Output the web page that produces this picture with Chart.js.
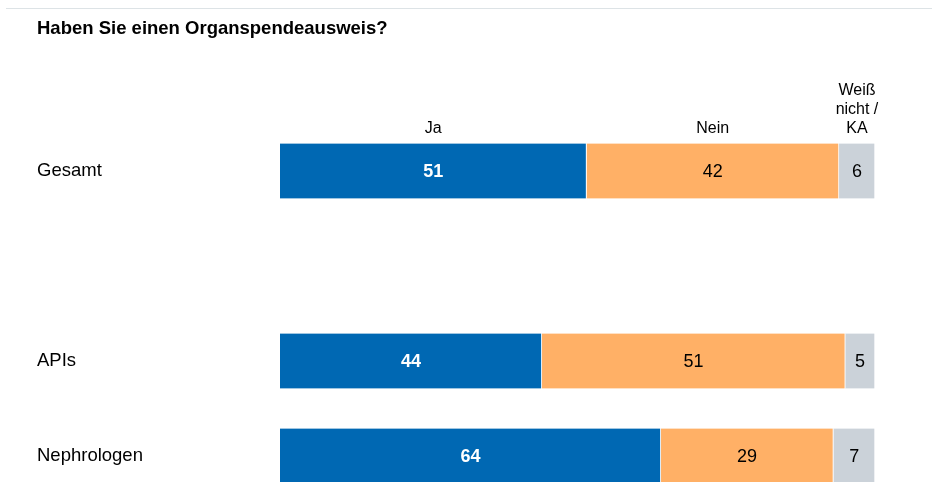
<!DOCTYPE html>
<html lang="de">
<head>
<meta charset="utf-8">
<title>Haben Sie einen Organspendeausweis?</title>
<script src="https://cdn.jsdelivr.net/npm/chart.js@4"></script>
<style>
  html, body { margin: 0; padding: 0; background: #fff; overflow: hidden; }
  #wrap { width: 932px; height: 482px; overflow: hidden; }
</style>
</head>
<body>
<div id="wrap"><canvas id="organChart" width="932" height="520"></canvas></div>
<script>
// == Data ==
const title = 'Haben Sie einen Organspendeausweis?';
const categories = ['Gesamt', '', 'APIs', 'Nephrologen'];
const seriesNames = ['Ja', 'Nein', 'Weiß nicht / KA'];
const headerLines = [['Ja'], ['Nein'], ['Weiß', 'nicht /', 'KA']];
const ja = [51, null, 44, 64];
const nein = [42, null, 51, 29];
const weissNicht = [6, null, 5, 7];
const seriesColors = ['#0068b3', '#ffb066', '#cbd2d9'];
const valueColors = ['#ffffff', '#000000', '#000000'];

const FONT = '"Liberation Sans", Arial, sans-serif';

// every row is drawn as a full 100 % bar (Gesamt adds up to 99)
const series = [ja, nein, weissNicht];
const rowTotals = categories.map((c, j) => series.reduce((s, arr) => s + (arr[j] || 0), 0));
const shares = series.map(arr => arr.map((v, j) => v === null ? null : v / rowTotals[j] * 100));

// title, top rule, column headers and value labels
const labelsPlugin = {
    id: 'organLabels',
    beforeDraw(chart) {
        const ctx = chart.ctx;
        ctx.save();
        ctx.strokeStyle = '#dde3e6';
        ctx.lineWidth = 1;
        ctx.beginPath();
        ctx.moveTo(6, 8.5);
        ctx.lineTo(932, 8.5);
        ctx.stroke();
        ctx.fillStyle = '#000';
        ctx.font = 'bold 18.5px ' + FONT;
        ctx.textAlign = 'left';
        ctx.textBaseline = 'alphabetic';
        ctx.fillText(title, 37, 34);
        ctx.restore();
    },
    afterDatasetsDraw(chart) {
        const ctx = chart.ctx;
        ctx.save();
        ctx.textAlign = 'center';
        chart.data.datasets.forEach((ds, i) => {
            const meta = chart.getDatasetMeta(i);
            // header above the first bar
            const first = meta.data[0];
            const cx = (first.x + first.base) / 2;
            const top = first.y - first.height / 2;
            const lines = headerLines[i];
            ctx.fillStyle = '#000';
            ctx.font = '16px ' + FONT;
            ctx.textBaseline = 'alphabetic';
            lines.forEach((line, k) => {
                ctx.fillText(line, cx, top - 11 - (lines.length - 1 - k) * 19);
            });
            // values inside the bars
            ctx.fillStyle = valueColors[i];
            ctx.font = (i === 0 ? 'bold ' : '') + '18px ' + FONT;
            ctx.textBaseline = 'middle';
            meta.data.forEach((bar, j) => {
                const v = series[i][j];
                if (v === null || v === undefined) return;
                ctx.fillText(String(v), (bar.x + bar.base) / 2, bar.y + 1);
            });
        });
        ctx.restore();
    }
};

const canvas = document.getElementById('organChart');
new Chart(canvas.getContext('2d'), {
    type: 'bar',
    data: {
        labels: categories,
        datasets: shares.map((values, i) => ({
            label: seriesNames[i],
            data: values,
            backgroundColor: seriesColors[i],
            borderColor: '#ffffff',
            borderWidth: { top: 0, bottom: 0, left: 0, right: 1 },
            borderSkipped: false,
            barThickness: 55
        }))
    },
    options: {
        indexAxis: 'y',
        responsive: false,
        animation: false,
        devicePixelRatio: 1,
        layout: { padding: { left: 37, right: 57, top: 123.5, bottom: 16.5 } },
        plugins: {
            legend: { display: false },
            title: { display: false },
            tooltip: { enabled: false }
        },
        scales: {
            x: {
                stacked: true,
                min: 0,
                max: 100,
                display: false
            },
            y: {
                stacked: true,
                grid: { display: false, drawTicks: false },
                border: { display: false },
                ticks: {
                    crossAlign: 'far',
                    color: '#000',
                    padding: 0,
                    font: { family: FONT, size: 18.5 }
                },
                afterFit(scale) { scale.width = 243; }
            }
        }
    },
    plugins: [labelsPlugin]
});
</script>
</body>
</html>
